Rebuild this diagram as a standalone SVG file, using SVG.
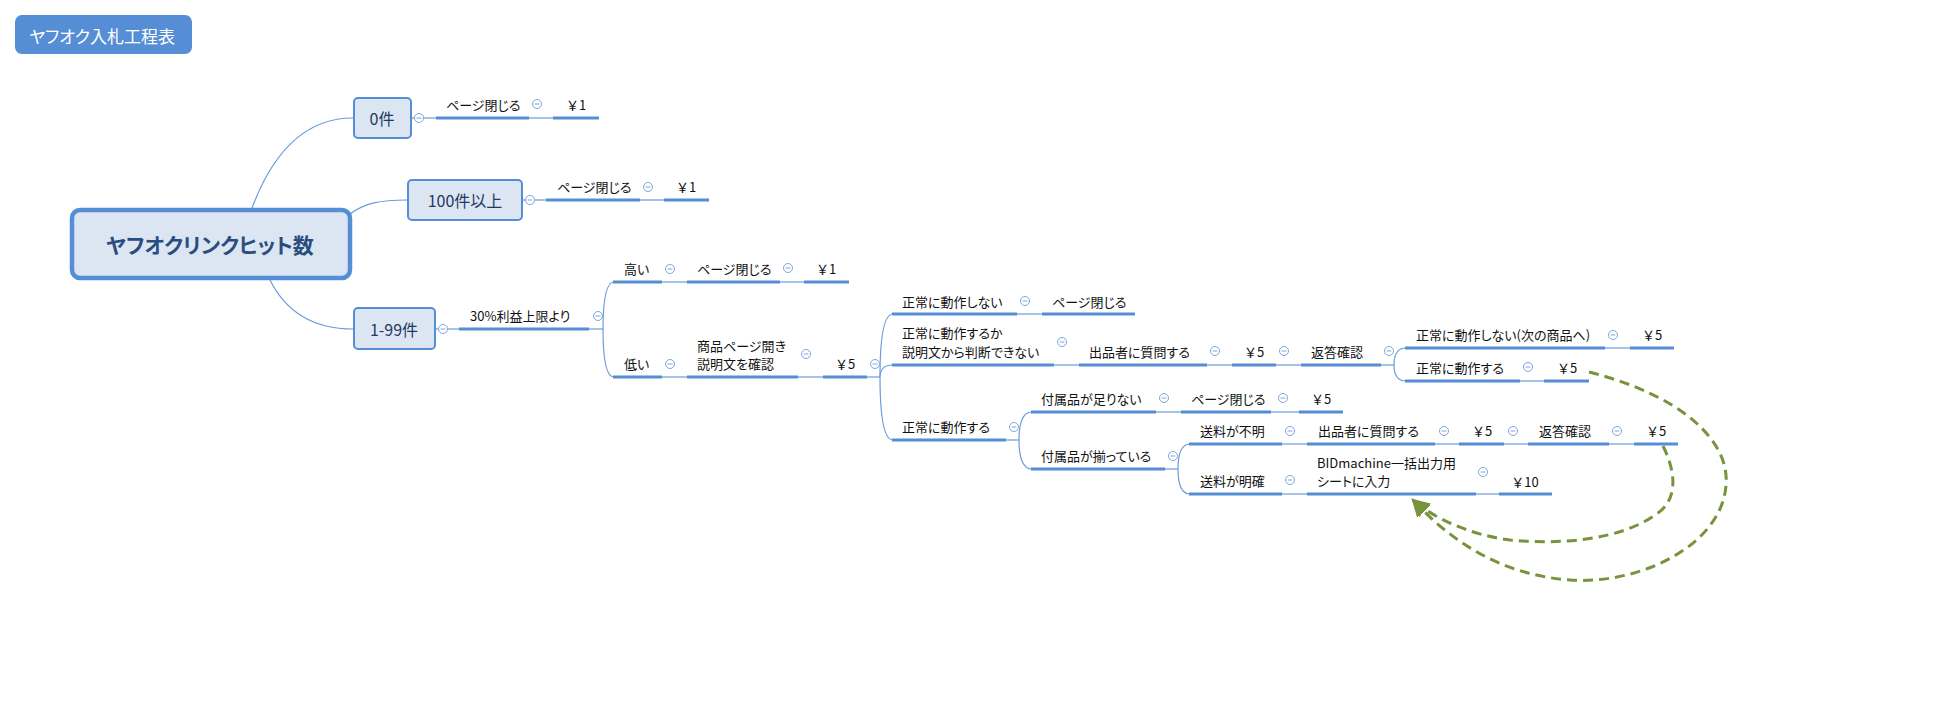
<svg xmlns="http://www.w3.org/2000/svg" xmlns:xlink="http://www.w3.org/1999/xlink" width="1935" height="726" viewBox="0 0 1935 726">
<style>
.u{stroke:#558ed5;stroke-width:3;fill:none}
.t{stroke:#6b9bd9;stroke-width:1.2;fill:none}
.br{stroke:#6b9bd9;stroke-width:1.2;fill:none}
.lbl{font-family:"Noto Sans CJK JP","Noto Sans",sans-serif;font-size:13px;fill:#111;font-feature-settings:"palt";dominant-baseline:central}
.yen{text-anchor:middle;font-feature-settings:normal}
.box{fill:#dce6f2;stroke:#558ed5;stroke-width:2}
.bt{font-family:"Noto Sans CJK JP","Noto Sans",sans-serif;font-size:16px;fill:#1f3864;text-anchor:middle;dominant-baseline:central;font-feature-settings:"palt"}
.dash{stroke:#77933c;stroke-width:3;fill:none;stroke-dasharray:10 6}
</style>
<defs>
<g id="col"><circle r="4.5" fill="#fff" stroke="#7ea6dc" stroke-width="1"/><line x1="-2.4" y1="0" x2="2.4" y2="0" stroke="#7ea6dc" stroke-width="1"/></g>
<marker id="ah" viewBox="0 0 10 10" refX="8" refY="5" markerWidth="6" markerHeight="6" orient="auto" markerUnits="strokeWidth"><path d="M0,0 L10,5 L0,10 Z" fill="#77933c"/></marker>
</defs>
<rect width="1935" height="726" fill="#fff"/>

<g id="title">
<rect x="15" y="15" width="177" height="39" rx="7" fill="#558ed5"/>
<text x="102" y="35" font-family="'Noto Sans CJK JP',sans-serif" font-size="17" fill="#fff" text-anchor="middle" dominant-baseline="central" style="font-feature-settings:'palt'">ヤフオク入札工程表</text>
</g>

<g id="connectors">
<path class="br" d="M252,208 C270,160 300,118 353,118"/>
<path class="br" d="M350,214 C365,203 380,200 407,200"/>
<path class="br" d="M270,280 C285,310 310,329 353,329"/>
<line class="t" x1="412" y1="118" x2="436" y2="118"/>
<line class="t" x1="529" y1="118" x2="553" y2="118"/>
<line class="t" x1="523" y1="200" x2="546" y2="200"/>
<line class="t" x1="640" y1="200" x2="664" y2="200"/>
<line class="t" x1="436" y1="329" x2="459" y2="329"/>
<line class="t" x1="589" y1="329" x2="603" y2="329"/>
<path class="br" d="M603,329 Q603,282 614,282"/>
<path class="br" d="M603,329 Q603,377 614,377"/>
<line class="t" x1="662" y1="282" x2="687" y2="282"/>
<line class="t" x1="780" y1="282" x2="804" y2="282"/>
<line class="t" x1="662" y1="377" x2="687" y2="377"/>
<line class="t" x1="798" y1="377" x2="823" y2="377"/>
<line class="t" x1="867" y1="377" x2="880" y2="377"/>
<path class="br" d="M880,377 Q880,314 893,314"/>
<path class="br" d="M880,377 Q880,365 893,365"/>
<path class="br" d="M880,377 Q880,440 893,440"/>
<line class="t" x1="1017" y1="314" x2="1042" y2="314"/>
<line class="t" x1="1054" y1="365" x2="1079" y2="365"/>
<line class="t" x1="1207" y1="365" x2="1232" y2="365"/>
<line class="t" x1="1276" y1="365" x2="1301" y2="365"/>
<line class="t" x1="1381" y1="365" x2="1394" y2="365"/>
<path class="br" d="M1394,365 Q1394,348 1406,348"/>
<path class="br" d="M1394,365 Q1394,381 1406,381"/>
<line class="t" x1="1605" y1="348" x2="1630" y2="348"/>
<line class="t" x1="1520" y1="381" x2="1544" y2="381"/>
<line class="t" x1="1006" y1="440" x2="1019" y2="440"/>
<path class="br" d="M1019,440 Q1019,412 1032,412"/>
<path class="br" d="M1019,440 Q1019,469 1032,469"/>
<line class="t" x1="1156" y1="412" x2="1181" y2="412"/>
<line class="t" x1="1271" y1="412" x2="1299" y2="412"/>
<line class="t" x1="1165" y1="469" x2="1178" y2="469"/>
<path class="br" d="M1178,469 Q1178,444 1190,444"/>
<path class="br" d="M1178,469 Q1178,494 1190,494"/>
<line class="t" x1="1282" y1="444" x2="1307" y2="444"/>
<line class="t" x1="1435" y1="444" x2="1459" y2="444"/>
<line class="t" x1="1504" y1="444" x2="1528" y2="444"/>
<line class="t" x1="1609" y1="444" x2="1634" y2="444"/>
<line class="t" x1="1282" y1="494" x2="1307" y2="494"/>
<line class="t" x1="1476" y1="494" x2="1499" y2="494"/>
<path class="dash" d="M1589,372 C1680,395 1730,440 1726,485 C1722,545 1640,585 1570,580 C1500,575 1450,540 1414,501" marker-end="url(#ah)"/>
<path class="dash" d="M1663,446 C1675,470 1680,500 1655,515 C1620,540 1560,545 1510,540 C1470,535 1434,518 1414,501" marker-end="url(#ah)"/>
</g>

<g id="central">
<rect x="72" y="210" width="278" height="68" rx="8" fill="#dce6f2" stroke="#558ed5" stroke-width="4.5"/>
<text x="210" y="244" font-family="'Noto Sans CJK JP',sans-serif" font-size="21" font-weight="bold" fill="#2a4d7f" text-anchor="middle" dominant-baseline="central" style="font-feature-settings:'palt'">ヤフオクリンクヒット数</text>
</g>

<g id="n0">
<rect class="box" x="354" y="98" width="57" height="40" rx="4"/>
<text class="bt" x="382" y="118">0件</text>
<use xlink:href="#col" x="419" y="118"/>
</g>
<g id="n0a"><line class="u" x1="436" y1="118" x2="529" y2="118"/><text class="lbl" x="446" y="104">ページ閉じる</text><use xlink:href="#col" x="537" y="104"/></g>
<g id="n0b"><line class="u" x1="553" y1="118" x2="599" y2="118"/><text class="lbl yen" x="576" y="104">￥1</text></g>

<g id="n100">
<rect class="box" x="408" y="180" width="114" height="40" rx="4"/>
<text class="bt" x="465" y="200">100件以上</text>
<use xlink:href="#col" x="530" y="200"/>
</g>
<g id="n100a"><line class="u" x1="546" y1="200" x2="640" y2="200"/><text class="lbl" x="557" y="186">ページ閉じる</text><use xlink:href="#col" x="648" y="187"/></g>
<g id="n100b"><line class="u" x1="664" y1="200" x2="709" y2="200"/><text class="lbl yen" x="686" y="186">￥1</text></g>

<g id="n199">
<rect class="box" x="354" y="308" width="81" height="41" rx="4"/>
<text class="bt" x="394" y="329">1-99件</text>
<use xlink:href="#col" x="443" y="329"/>
</g>
<g id="n30"><line class="u" x1="459" y1="329" x2="589" y2="329"/><text class="lbl" x="470" y="315">30%利益上限より</text><use xlink:href="#col" x="598" y="316"/></g>

<g id="nHigh"><line class="u" x1="613" y1="282" x2="662" y2="282"/><text class="lbl" x="624" y="268">高い</text><use xlink:href="#col" x="670" y="269"/></g>
<g id="nHighA"><line class="u" x1="687" y1="282" x2="780" y2="282"/><text class="lbl" x="697" y="268">ページ閉じる</text><use xlink:href="#col" x="788" y="268"/></g>
<g id="nHighB"><line class="u" x1="804" y1="282" x2="849" y2="282"/><text class="lbl yen" x="826" y="268">￥1</text></g>

<g id="nLow"><line class="u" x1="613" y1="377" x2="662" y2="377"/><text class="lbl" x="624" y="363">低い</text><use xlink:href="#col" x="670" y="364"/></g>
<g id="nLowA"><line class="u" x1="687" y1="377" x2="798" y2="377"/><text class="lbl" x="697" y="345">商品ページ開き</text><text class="lbl" x="697" y="363">説明文を確認</text><use xlink:href="#col" x="806" y="354"/></g>
<g id="nLowB"><line class="u" x1="823" y1="377" x2="867" y2="377"/><text class="lbl yen" x="845" y="363">￥5</text><use xlink:href="#col" x="875" y="364"/></g>

<g id="nA"><line class="u" x1="892" y1="314" x2="1017" y2="314"/><text class="lbl" x="902" y="301">正常に動作しない</text><use xlink:href="#col" x="1025" y="301"/></g>
<g id="nA1"><line class="u" x1="1042" y1="314" x2="1135" y2="314"/><text class="lbl" x="1052" y="301">ページ閉じる</text></g>

<g id="nB"><line class="u" x1="892" y1="365" x2="1054" y2="365"/><text class="lbl" x="902" y="332">正常に動作するか</text><text class="lbl" x="902" y="351">説明文から判断できない</text><use xlink:href="#col" x="1062" y="342"/></g>
<g id="nB1"><line class="u" x1="1079" y1="365" x2="1207" y2="365"/><text class="lbl" x="1089" y="351">出品者に質問する</text><use xlink:href="#col" x="1215" y="351"/></g>
<g id="nB2"><line class="u" x1="1232" y1="365" x2="1276" y2="365"/><text class="lbl yen" x="1254" y="351">￥5</text><use xlink:href="#col" x="1284" y="351"/></g>
<g id="nB3"><line class="u" x1="1301" y1="365" x2="1381" y2="365"/><text class="lbl" x="1311" y="351">返答確認</text><use xlink:href="#col" x="1389" y="351"/></g>
<g id="nB4"><line class="u" x1="1405" y1="348" x2="1605" y2="348"/><text class="lbl" x="1416" y="334">正常に動作しない(次の商品へ)</text><use xlink:href="#col" x="1613" y="335"/></g>
<g id="nB4a"><line class="u" x1="1630" y1="348" x2="1674" y2="348"/><text class="lbl yen" x="1652" y="334">￥5</text></g>
<g id="nB5"><line class="u" x1="1405" y1="381" x2="1520" y2="381"/><text class="lbl" x="1416" y="367">正常に動作する</text><use xlink:href="#col" x="1528" y="367"/></g>
<g id="nB5a"><line class="u" x1="1544" y1="381" x2="1589" y2="381"/><text class="lbl yen" x="1567" y="367">￥5</text></g>

<g id="nC"><line class="u" x1="892" y1="440" x2="1006" y2="440"/><text class="lbl" x="902" y="426">正常に動作する</text><use xlink:href="#col" x="1014" y="427"/></g>
<g id="nC1"><line class="u" x1="1031" y1="412" x2="1156" y2="412"/><text class="lbl" x="1041" y="398">付属品が足りない</text><use xlink:href="#col" x="1164" y="398"/></g>
<g id="nC1a"><line class="u" x1="1181" y1="412" x2="1271" y2="412"/><text class="lbl" x="1191" y="398">ページ閉じる</text><use xlink:href="#col" x="1283" y="398"/></g>
<g id="nC1b"><line class="u" x1="1299" y1="412" x2="1343" y2="412"/><text class="lbl yen" x="1321" y="398">￥5</text></g>
<g id="nC2"><line class="u" x1="1031" y1="469" x2="1165" y2="469"/><text class="lbl" x="1041" y="455">付属品が揃っている</text><use xlink:href="#col" x="1173" y="456"/></g>
<g id="nD1"><line class="u" x1="1189" y1="444" x2="1282" y2="444"/><text class="lbl" x="1200" y="430">送料が不明</text><use xlink:href="#col" x="1290" y="431"/></g>
<g id="nD1a"><line class="u" x1="1307" y1="444" x2="1435" y2="444"/><text class="lbl" x="1318" y="430">出品者に質問する</text><use xlink:href="#col" x="1444" y="431"/></g>
<g id="nD1b"><line class="u" x1="1459" y1="444" x2="1504" y2="444"/><text class="lbl yen" x="1482" y="430">￥5</text><use xlink:href="#col" x="1513" y="431"/></g>
<g id="nD1c"><line class="u" x1="1528" y1="444" x2="1609" y2="444"/><text class="lbl" x="1539" y="430">返答確認</text><use xlink:href="#col" x="1617" y="431"/></g>
<g id="nD1d"><line class="u" x1="1634" y1="444" x2="1678" y2="444"/><text class="lbl yen" x="1656" y="430">￥5</text></g>
<g id="nD2"><line class="u" x1="1189" y1="494" x2="1282" y2="494"/><text class="lbl" x="1200" y="480">送料が明確</text><use xlink:href="#col" x="1290" y="480"/></g>
<g id="nD2a"><line class="u" x1="1307" y1="494" x2="1476" y2="494"/><text class="lbl" x="1317" y="462">BIDmachine一括出力用</text><text class="lbl" x="1317" y="480">シートに入力</text><use xlink:href="#col" x="1483" y="472"/></g>
<g id="nD2b"><line class="u" x1="1499" y1="494" x2="1552" y2="494"/><text class="lbl yen" x="1525" y="481">￥10</text></g>
</svg>
